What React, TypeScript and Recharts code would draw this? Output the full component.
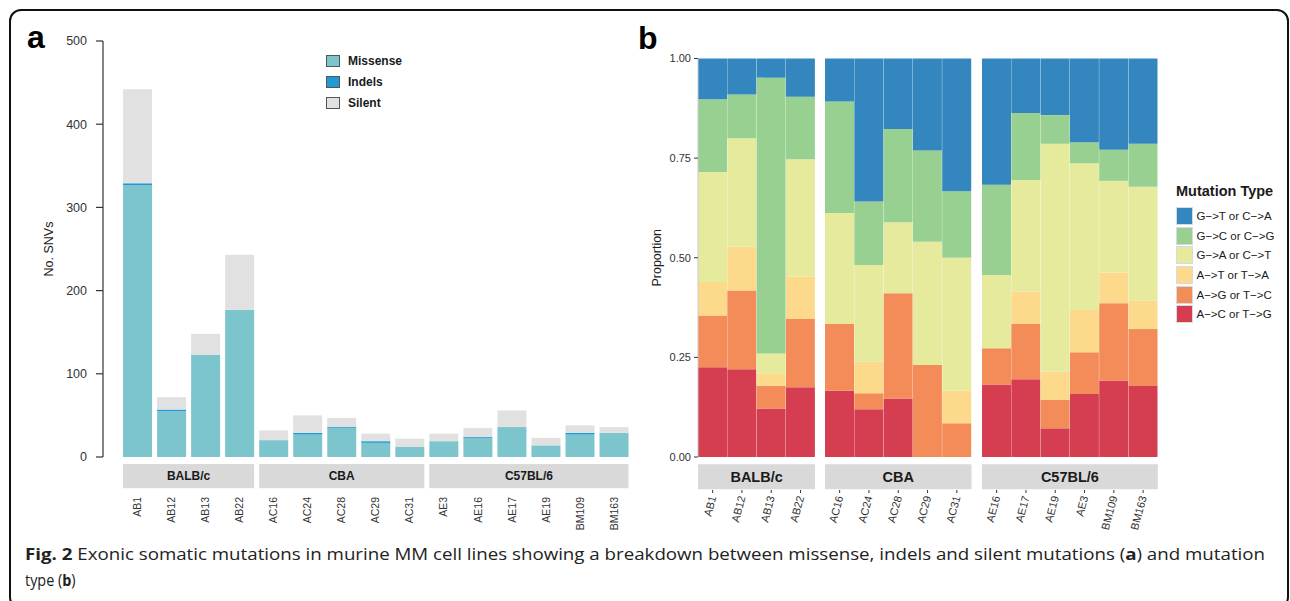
import React from 'react';
import { Bar, BarChart, Legend, ReferenceArea, XAxis, YAxis } from 'recharts';

// panel a: counts per cell line
const samplesA = ['AB1', 'AB12', 'AB13', 'AB22', 'AC16', 'AC24', 'AC28', 'AC29', 'AC31', 'AE3', 'AE16', 'AE17', 'AE19', 'BM109', 'BM163'];
const strainsA = ['BALB/c', 'BALB/c', 'BALB/c', 'BALB/c', 'CBA', 'CBA', 'CBA', 'CBA', 'CBA', 'C57BL/6', 'C57BL/6', 'C57BL/6', 'C57BL/6', 'C57BL/6', 'C57BL/6'];
const missense = [327, 55, 123, 177, 19, 27, 35, 17, 12, 19, 23, 36, 14, 27, 29];
const indels = [2, 2, 0, 0, 1, 2, 1, 2, 0, 0, 1, 0, 0, 2, 0];
const silent = [113, 15, 25, 66, 12, 21, 11, 9, 10, 9, 11, 20, 9, 9, 7];
const ticksA = [0, 100, 200, 300, 400, 500];

// panel b: proportions per mutation type
const samplesB = ['AB1', 'AB12', 'AB13', 'AB22', 'AC16', 'AC24', 'AC28', 'AC29', 'AC31', 'AE16', 'AE17', 'AE19', 'AE3', 'BM109', 'BM163'];
const strainsB = ['BALB/c', 'BALB/c', 'BALB/c', 'BALB/c', 'CBA', 'CBA', 'CBA', 'CBA', 'CBA', 'C57BL/6', 'C57BL/6', 'C57BL/6', 'C57BL/6', 'C57BL/6', 'C57BL/6'];
const aToC = [0.225, 0.22, 0.122, 0.175, 0.166, 0.12, 0.147, 0, 0, 0.182, 0.195, 0.072, 0.158, 0.192, 0.178];
const aToG = [0.13, 0.198, 0.057, 0.171, 0.168, 0.04, 0.264, 0.231, 0.085, 0.091, 0.139, 0.071, 0.105, 0.194, 0.143];
const aToT = [0.084, 0.11, 0.031, 0.107, 0, 0.079, 0, 0, 0.081, 0, 0.081, 0.071, 0.106, 0.077, 0.071];
const gToA = [0.276, 0.272, 0.05, 0.294, 0.278, 0.243, 0.178, 0.309, 0.334, 0.184, 0.28, 0.572, 0.368, 0.23, 0.286];
const gToC = [0.183, 0.11, 0.692, 0.157, 0.28, 0.159, 0.234, 0.229, 0.167, 0.226, 0.168, 0.072, 0.053, 0.078, 0.108];
const gToT = [0.102, 0.09, 0.048, 0.096, 0.108, 0.359, 0.177, 0.231, 0.333, 0.317, 0.137, 0.142, 0.21, 0.229, 0.214];
const ticksB = [0, 0.25, 0.5, 0.75, 1];
const facets = ['BALB/c', 'CBA', 'C57BL/6'];

const seriesA = [
  { key: 'missense', name: 'Missense', color: '#7cc5cc' },
  { key: 'indels', name: 'Indels', color: '#1f9ad6' },
  { key: 'silent', name: 'Silent', color: '#e1e1e1' },
];

// bottom-up stacking order
const seriesB = [
  { key: 'aToC', name: 'A−>C or T−>G', color: '#d53e50' },
  { key: 'aToG', name: 'A−>G or T−>C', color: '#f48c5a' },
  { key: 'aToT', name: 'A−>T or T−>A', color: '#fcd98b' },
  { key: 'gToA', name: 'G−>A or C−>T', color: '#e5ea9d' },
  { key: 'gToC', name: 'G−>C or C−>G', color: '#98d092' },
  { key: 'gToT', name: 'G−>T or C−>A', color: '#3387be' },
];

const rowsA = samplesA.map((name, i) => ({
  name,
  strain: strainsA[i],
  missense: missense[i],
  indels: indels[i],
  silent: silent[i],
}));

const rowsB = samplesB.map((name, i) => ({
  name,
  strain: strainsB[i],
  aToC: aToC[i],
  aToG: aToG[i],
  aToT: aToT[i],
  gToA: gToA[i],
  gToC: gToC[i],
  gToT: gToT[i],
}));

const FONT = '"Liberation Sans", Arial, Helvetica, sans-serif';
const STRIP = '#d9d9d9';
const BAND_B = 29.3;
const FACET_LEFT_B = [698, 825.2, 981.7];

// keep legend rows in series order (recharts sorts by name otherwise)
const inOrder = (payload: any[], series: { name: string }[]) =>
  [...(payload || [])].sort((p, q) => series.findIndex((s) => s.name === p.value) - series.findIndex((s) => s.name === q.value));

const yTitle = (cx: number, text: string) => (props: any) => {
  const vb = props.viewBox;
  const cy = vb.y + vb.height / 2;
  return (
    <text x={cx} y={cy} transform={`rotate(-90 ${cx} ${cy})`} textAnchor="middle" dominantBaseline="central" fontSize={12.5} fill="#1a1a1a">
      {text}
    </text>
  );
};

const TickA = (props: any) => {
  const { x, y, payload } = props;
  const ty = y + 40;
  return (
    <text x={x} y={ty} transform={`rotate(-90 ${x} ${ty})`} textAnchor="end" dy="0.35em" fontSize={10.5} fill="#333">
      {payload.value}
    </text>
  );
};

const TickB = (props: any) => {
  const { x, y, payload } = props;
  const ty = y + 39;
  return (
    <g>
      <line x1={x} x2={x} y1={y + 33} y2={y + 36} stroke="#333" />
      <text x={x} y={ty} transform={`rotate(-75 ${x} ${ty})`} textAnchor="end" dy="0.35em" fontSize={11} fill="#333">
        {payload.value}
      </text>
    </g>
  );
};

const LegendA = (props: any) => (
  <div style={{ fontFamily: FONT }}>
    {inOrder(props.payload, seriesA).map((p: any) => (
      <div key={p.value} style={{ display: 'flex', alignItems: 'center', height: 20.7 }}>
        <div style={{ width: 14, height: 12, background: p.color, border: '1px solid #555', boxSizing: 'border-box' }} />
        <span style={{ marginLeft: 8, fontSize: 12, fontWeight: 'bold', color: '#1a1a1a' }}>{p.value}</span>
      </div>
    ))}
  </div>
);

const LegendB = (props: any) => (
  <div style={{ fontFamily: FONT }}>
    <div style={{ fontSize: 14.5, fontWeight: 'bold', lineHeight: '17px', color: '#1a1a1a', marginBottom: 6.5 }}>Mutation Type</div>
    {inOrder(props.payload, seriesB)
      .reverse()
      .map((p: any) => (
        <div key={p.value} style={{ display: 'flex', alignItems: 'center', height: 19.7 }}>
          <div style={{ width: 17, height: 18, background: p.color, border: '1px solid #d5dbe0', boxSizing: 'border-box' }} />
          <span style={{ marginLeft: 3.5, fontSize: 11.5, color: '#1a1a1a' }}>{p.value}</span>
        </div>
      ))}
  </div>
);

const stripA = (p: any) => <rect x={p.x + 2.5} y={p.y} width={p.width - 5} height={p.height} fill={STRIP} />;

function PanelA() {
  return (
    <div style={{ position: 'absolute', left: 0, top: 0 }}>
      <BarChart width={640} height={601} data={rowsA} barCategoryGap="7.5%" margin={{ top: 41, right: 9, bottom: 64, left: 0 }} style={{ fontFamily: FONT }}>
        <XAxis dataKey="name" height={80} interval={0} axisLine={false} tickLine={false} tickSize={0} tickMargin={0} padding={{ left: 17.5, right: 0 }} tick={TickA} />
        <YAxis
          width={103}
          domain={[0, 500]}
          ticks={ticksA}
          tickSize={7}
          tickMargin={9}
          axisLine={{ stroke: '#333', strokeWidth: 1.2 }}
          tickLine={{ stroke: '#333', strokeWidth: 1.2 }}
          tick={{ fontSize: 12.5, fill: '#333' }}
          label={yTitle(49, 'No. SNVs')}
        />
        {seriesA.map((s) => (
          <Bar key={s.key} dataKey={s.key} name={s.name} stackId="a" fill={s.color} isAnimationActive={false} />
        ))}
        {facets.map((f) => {
          const members = rowsA.filter((r) => r.strain === f);
          return (
            <ReferenceArea
              key={f}
              x1={members[0].name}
              x2={members[members.length - 1].name}
              y1={-8.5}
              y2={-37.5}
              ifOverflow="visible"
              shape={stripA}
              label={{ value: f, position: 'center', fontSize: 12, fontWeight: 'bold', fill: '#1a1a1a' }}
            />
          );
        })}
        <Legend layout="vertical" align="center" verticalAlign="middle" content={LegendA} wrapperStyle={{ left: 326, top: 51, width: 'auto' }} />
      </BarChart>
    </div>
  );
}

function FacetB({ strain, index }: { strain: string; index: number }) {
  const rows = rowsB.filter((r) => r.strain === strain);
  const first = index === 0;
  const last = index === facets.length - 1;
  const axisW = first ? 68 : 0;
  const extraRight = last ? 130 : 0;
  const width = axisW + rows.length * BAND_B + extraRight;
  return (
    <div style={{ position: 'absolute', left: FACET_LEFT_B[index] - axisW, top: 0 }}>
      <BarChart width={width} height={601} data={rows} stackOffset="expand" barCategoryGap={0} margin={{ top: 58.5, right: extraRight, bottom: 64, left: 0 }} style={{ fontFamily: FONT }}>
        <XAxis dataKey="name" height={80} interval={0} axisLine={false} tickLine={false} tickSize={0} tickMargin={0} tick={TickB} />
        {first ? (
          <YAxis
            width={axisW}
            domain={[0, 1]}
            ticks={ticksB}
            tickFormatter={(v: number) => v.toFixed(2)}
            tickSize={4}
            tickMargin={3}
            axisLine={{ stroke: '#cccccc' }}
            tickLine={{ stroke: '#333' }}
            tick={{ fontSize: 11, fill: '#333' }}
            label={yTitle(27, 'Proportion')}
          />
        ) : (
          <YAxis hide domain={[0, 1]} />
        )}
        {seriesB.map((s) => (
          <Bar key={s.key} dataKey={s.key} name={s.name} stackId="m" fill={s.color} isAnimationActive={false} />
        ))}
        <ReferenceArea
          x1={rows[0].name}
          x2={rows[rows.length - 1].name}
          y1={-0.018}
          y2={-0.081}
          ifOverflow="visible"
          fill={STRIP}
          fillOpacity={1}
          stroke="none"
          label={{ value: strain, position: 'center', fontSize: 14.5, fontWeight: 'bold', fill: '#1a1a1a' }}
        />
        {last && (
          <Legend layout="vertical" align="center" verticalAlign="middle" content={LegendB} wrapperStyle={{ left: 1176 - FACET_LEFT_B[index], top: 182.5, width: 'auto' }} />
        )}
      </BarChart>
    </div>
  );
}

export default function App() {
  return (
    <div style={{ position: 'absolute', left: 0, top: 0, width: 1290, height: 601, background: '#fff', overflow: 'hidden', fontFamily: FONT }}>
      <div style={{ position: 'absolute', left: 9, top: 9, width: 1280, height: 600, border: '2px solid #111', borderRadius: 12, boxSizing: 'border-box' }} />
      <PanelA />
      {facets.map((f, i) => (
        <FacetB key={f} strain={f} index={i} />
      ))}
      <div style={{ position: 'absolute', left: 27, top: 17, fontSize: 32, fontWeight: 'bold', lineHeight: '40px' }}>a</div>
      <div style={{ position: 'absolute', left: 638, top: 18, fontSize: 32, fontWeight: 'bold', lineHeight: '40px' }}>b</div>
      <svg width={1290} height={601} style={{ position: 'absolute', left: 0, top: 0, pointerEvents: 'none' }}>
        <text x={25} y={560} fontSize={16} fill="#222" fontFamily='"Open Sans", sans-serif' textLength={1240} lengthAdjust="spacingAndGlyphs">
          <tspan fontWeight="bold">Fig. 2</tspan> Exonic somatic mutations in murine MM cell lines showing a breakdown between missense, indels and silent mutations (<tspan fontWeight="bold">a</tspan>) and mutation
        </text>
        <text transform="translate(25 586) scale(0.9 1)" fontSize={16} fill="#222" fontFamily='"Open Sans", sans-serif'>
          type (<tspan fontWeight="bold">b</tspan>)
        </text>
      </svg>
    </div>
  );
}
